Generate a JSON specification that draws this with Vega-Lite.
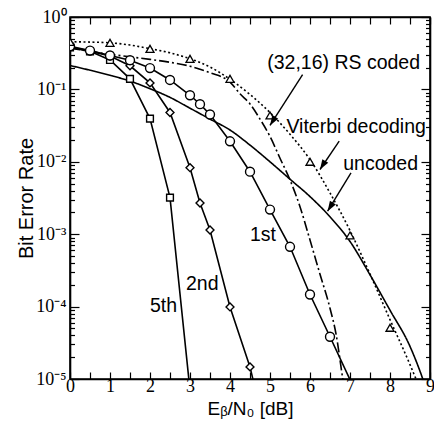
{
  "$schema": "https://vega.github.io/schema/vega-lite/v6.json",
  "width": 360,
  "height": 362,
  "autosize": {"type": "none"},
  "padding": {"left": 70, "top": 17, "right": 4, "bottom": 48},
  "background": "white",
  "config": {
    "view": {"stroke": "black", "strokeWidth": 1.6},
    "axis": {
      "domainColor": "black", "domainWidth": 1.6,
      "tickColor": "black", "tickWidth": 1.2,
      "labelColor": "black", "titleColor": "black",
      "grid": false,
      "labelFont": "Liberation Serif, Times New Roman, serif", "labelFontSize": 18,
      "titleFont": "Liberation Sans, Arial, sans-serif", "titleFontSize": 20, "titleFontWeight": "normal",
      "labelFlush": false, "labelOverlap": false, "labelBound": false
    }
  },
  "datasets": {
    "curves": [
      {"series": "5th", "x": 0, "ber": 0.38},
      {"series": "5th", "x": 0.5, "ber": 0.335},
      {"series": "5th", "x": 1, "ber": 0.255},
      {"series": "5th", "x": 1.5, "ber": 0.14},
      {"series": "5th", "x": 2, "ber": 0.0395},
      {"series": "5th", "x": 2.5, "ber": 0.0032},
      {"series": "5th", "x": 3, "ber": 7e-6},
      {"series": "2nd", "x": 0, "ber": 0.385},
      {"series": "2nd", "x": 0.5, "ber": 0.338},
      {"series": "2nd", "x": 1, "ber": 0.29},
      {"series": "2nd", "x": 1.5, "ber": 0.212},
      {"series": "2nd", "x": 2, "ber": 0.123},
      {"series": "2nd", "x": 2.5, "ber": 0.048},
      {"series": "2nd", "x": 3, "ber": 0.0083},
      {"series": "2nd", "x": 3.25, "ber": 0.0027},
      {"series": "2nd", "x": 3.5, "ber": 0.00114},
      {"series": "2nd", "x": 4, "ber": 0.000099},
      {"series": "2nd", "x": 4.5, "ber": 0.0000147},
      {"series": "2nd", "x": 5, "ber": 1e-6},
      {"series": "1st", "x": 0, "ber": 0.395},
      {"series": "1st", "x": 0.5, "ber": 0.344},
      {"series": "1st", "x": 1, "ber": 0.294},
      {"series": "1st", "x": 1.5, "ber": 0.253},
      {"series": "1st", "x": 2, "ber": 0.197},
      {"series": "1st", "x": 2.5, "ber": 0.135},
      {"series": "1st", "x": 3, "ber": 0.083},
      {"series": "1st", "x": 3.25, "ber": 0.0625},
      {"series": "1st", "x": 3.5, "ber": 0.045},
      {"series": "1st", "x": 4, "ber": 0.0192},
      {"series": "1st", "x": 4.5, "ber": 0.0073},
      {"series": "1st", "x": 5, "ber": 0.00219},
      {"series": "1st", "x": 5.5, "ber": 0.00067},
      {"series": "1st", "x": 6, "ber": 0.000147},
      {"series": "1st", "x": 6.5, "ber": 0.0000383},
      {"series": "1st", "x": 7, "ber": 0.0000098},
      {"series": "uncoded", "x": 0, "ber": 0.2138},
      {"series": "uncoded", "x": 0.5, "ber": 0.1841},
      {"series": "uncoded", "x": 1, "ber": 0.1567},
      {"series": "uncoded", "x": 1.5, "ber": 0.1303},
      {"series": "uncoded", "x": 2, "ber": 0.1023},
      {"series": "uncoded", "x": 2.5, "ber": 0.0776},
      {"series": "uncoded", "x": 3, "ber": 0.055},
      {"series": "uncoded", "x": 3.5, "ber": 0.0389},
      {"series": "uncoded", "x": 4, "ber": 0.0275},
      {"series": "uncoded", "x": 4.5, "ber": 0.017},
      {"series": "uncoded", "x": 5, "ber": 0.01},
      {"series": "uncoded", "x": 5.5, "ber": 0.00575},
      {"series": "uncoded", "x": 6, "ber": 0.00331},
      {"series": "uncoded", "x": 6.5, "ber": 0.00174},
      {"series": "uncoded", "x": 7, "ber": 0.000794},
      {"series": "uncoded", "x": 7.5, "ber": 0.000275},
      {"series": "uncoded", "x": 8, "ber": 0.0000891},
      {"series": "uncoded", "x": 8.5, "ber": 0.0000282},
      {"series": "uncoded", "x": 8.82, "ber": 0.00001},
      {"series": "uncoded", "x": 9, "ber": 5e-6},
      {"series": "rs", "x": 0, "ber": 0.372},
      {"series": "rs", "x": 0.5, "ber": 0.335},
      {"series": "rs", "x": 1, "ber": 0.305},
      {"series": "rs", "x": 1.5, "ber": 0.282},
      {"series": "rs", "x": 2, "ber": 0.26},
      {"series": "rs", "x": 2.5, "ber": 0.237},
      {"series": "rs", "x": 3, "ber": 0.209},
      {"series": "rs", "x": 3.5, "ber": 0.17},
      {"series": "rs", "x": 4, "ber": 0.126},
      {"series": "rs", "x": 4.25, "ber": 0.087},
      {"series": "rs", "x": 4.5, "ber": 0.063},
      {"series": "rs", "x": 4.75, "ber": 0.0389},
      {"series": "rs", "x": 5, "ber": 0.0224},
      {"series": "rs", "x": 5.25, "ber": 0.0112},
      {"series": "rs", "x": 5.5, "ber": 0.00562},
      {"series": "rs", "x": 5.75, "ber": 0.0024},
      {"series": "rs", "x": 6, "ber": 0.00083},
      {"series": "rs", "x": 6.25, "ber": 0.00028},
      {"series": "rs", "x": 6.5, "ber": 0.000095},
      {"series": "rs", "x": 6.65, "ber": 0.000042},
      {"series": "rs", "x": 6.82, "ber": 0.00001},
      {"series": "rs", "x": 7, "ber": 2.5e-6},
      {"series": "viterbi", "x": 0, "ber": 0.455},
      {"series": "viterbi", "x": 0.5, "ber": 0.45},
      {"series": "viterbi", "x": 1, "ber": 0.44},
      {"series": "viterbi", "x": 1.5, "ber": 0.41},
      {"series": "viterbi", "x": 2, "ber": 0.365},
      {"series": "viterbi", "x": 2.5, "ber": 0.32},
      {"series": "viterbi", "x": 3, "ber": 0.265},
      {"series": "viterbi", "x": 3.5, "ber": 0.204},
      {"series": "viterbi", "x": 4, "ber": 0.138},
      {"series": "viterbi", "x": 4.5, "ber": 0.0851},
      {"series": "viterbi", "x": 5, "ber": 0.0479},
      {"series": "viterbi", "x": 5.5, "ber": 0.024},
      {"series": "viterbi", "x": 6, "ber": 0.0107},
      {"series": "viterbi", "x": 6.5, "ber": 0.00372},
      {"series": "viterbi", "x": 7, "ber": 0.00112},
      {"series": "viterbi", "x": 7.5, "ber": 0.000282},
      {"series": "viterbi", "x": 8, "ber": 0.000066},
      {"series": "viterbi", "x": 8.5, "ber": 0.0000158},
      {"series": "viterbi", "x": 8.65, "ber": 0.00001},
      {"series": "viterbi", "x": 9, "ber": 3.5e-6}
    ],
    "viterbi_sim": [
      {"x": 0, "ber": 0.454},
      {"x": 1, "ber": 0.44},
      {"x": 2, "ber": 0.363},
      {"x": 3, "ber": 0.264},
      {"x": 4, "ber": 0.14},
      {"x": 5, "ber": 0.0436},
      {"x": 6, "ber": 0.01},
      {"x": 7, "ber": 0.00096},
      {"x": 8, "ber": 0.000051}
    ],
    "arrows": [
      {"x": 5.815, "y": 0.1606, "x2": 5.0, "y2": 0.0318},
      {"x": 6.73, "y": 0.01926, "x2": 6.25, "y2": 0.00783},
      {"x": 7.025, "y": 0.00705, "x2": 6.44, "y2": 0.00208}
    ],
    "labels": [
      {"label": "(32,16) RS coded", "x": 4.93, "y": 0.235},
      {"label": "Viterbi decoding", "x": 5.41, "y": 0.0307},
      {"label": "uncoded", "x": 6.83, "y": 0.00918},
      {"label": "1st", "x": 4.5, "y": 0.000975},
      {"label": "2nd", "x": 2.9, "y": 0.000205},
      {"label": "5th", "x": 2.0, "y": 0.000101}
    ]
  },
  "layer": [
    {
      "data": {"name": "curves"},
      "transform": [{"filter": "indexof(['uncoded','rs','viterbi'], datum.series) >= 0"}],
      "mark": {"type": "line", "clip": true, "interpolate": "monotone", "color": "black", "strokeWidth": 1.6},
      "encoding": {
        "x": {"field": "x", "type": "quantitative", "scale": {"domain": [0, 9], "nice": false},
          "axis": {"orient": "bottom", "title": "Eᵦ/N₀ [dB]", "titlePadding": 4, "titleFontSize": 19,
            "values": [0,0.5,1,1.5,2,2.5,3,3.5,4,4.5,5,5.5,6,6.5,7,7.5,8,8.5,9],
            "labelExpr": "datum.value % 1 == 0 ? format(datum.value, 'd') : ''",
            "tickSize": -7, "labelPadding": 5}},
        "y": {"field": "ber", "type": "quantitative", "scale": {"type": "log", "domain": [0.00001, 1], "nice": false},
          "axis": {"orient": "left", "title": "Bit Error Rate", "titlePadding": -1,
            "values": [1e-5,2e-5,3e-5,4e-5,5e-5,6e-5,7e-5,8e-5,9e-5,1e-4,2e-4,3e-4,4e-4,5e-4,6e-4,7e-4,8e-4,9e-4,1e-3,2e-3,3e-3,4e-3,5e-3,6e-3,7e-3,8e-3,9e-3,0.01,0.02,0.03,0.04,0.05,0.06,0.07,0.08,0.09,0.1,0.2,0.3,0.4,0.5,0.6,0.7,0.8,0.9,1],
            "labelExpr": "abs(log(datum.value)/LN10 - round(log(datum.value)/LN10)) < 0.001 ? (round(log(datum.value)/LN10) == 0 ? '10⁰' : '10⁻' + ['','¹','²','³','⁴','⁵'][-round(log(datum.value)/LN10)]) : ''",
            "tickSize": {"condition": {"test": "abs(log(datum.value)/LN10 - round(log(datum.value)/LN10)) < 0.001", "value": -9}, "value": -4.5},
            "labelPadding": 13}},
        "detail": {"field": "series"},
        "strokeDash": {"field": "series", "type": "nominal",
          "scale": {"domain": ["uncoded", "rs", "viterbi"], "range": [[1, 0], [10, 3, 2, 3], [2, 2.5]]},
          "legend": null}
      }
    },
    {
      "data": {"name": "curves"},
      "transform": [{"filter": "indexof(['1st','2nd','5th'], datum.series) >= 0"}],
      "mark": {"type": "line", "clip": true, "color": "black", "strokeWidth": 1.6},
      "encoding": {
        "x": {"field": "x", "type": "quantitative",
          "axis": {"orient": "top", "title": null, "labels": false,
            "values": [0,0.5,1,1.5,2,2.5,3,3.5,4,4.5,5,5.5,6,6.5,7,7.5,8,8.5,9],
            "tickSize": -7}},
        "y": {"field": "ber", "type": "quantitative",
          "axis": {"orient": "right", "title": null, "labels": false,
            "values": [1e-5,2e-5,3e-5,4e-5,5e-5,6e-5,7e-5,8e-5,9e-5,1e-4,2e-4,3e-4,4e-4,5e-4,6e-4,7e-4,8e-4,9e-4,1e-3,2e-3,3e-3,4e-3,5e-3,6e-3,7e-3,8e-3,9e-3,0.01,0.02,0.03,0.04,0.05,0.06,0.07,0.08,0.09,0.1,0.2,0.3,0.4,0.5,0.6,0.7,0.8,0.9,1],
            "tickSize": {"condition": {"test": "abs(log(datum.value)/LN10 - round(log(datum.value)/LN10)) < 0.001", "value": -9}, "value": -4.5}}},
        "detail": {"field": "series"}
      }
    },
    {
      "data": {"name": "curves"},
      "transform": [{"filter": "indexof(['1st','2nd','5th'], datum.series) >= 0 && datum.ber >= 0.00001"}],
      "mark": {"type": "point", "clip": true, "filled": true, "fill": "white", "stroke": "black", "strokeWidth": 1.4, "opacity": 1},
      "encoding": {
        "x": {"field": "x", "type": "quantitative", "axis": null},
        "y": {"field": "ber", "type": "quantitative", "axis": null},
        "shape": {"field": "series", "type": "nominal", "scale": {"domain": ["5th", "2nd", "1st"], "range": ["square", "diamond", "circle"]}, "legend": null},
        "size": {"field": "series", "type": "nominal", "scale": {"domain": ["5th", "2nd", "1st"], "range": [46, 80, 72]}, "legend": null}
      }
    },
    {
      "data": {"name": "viterbi_sim"},
      "mark": {"type": "point", "clip": true, "filled": true, "fill": "white", "stroke": "black", "strokeWidth": 1.3, "opacity": 1, "shape": "triangle-up", "size": 64},
      "encoding": {
        "x": {"field": "x", "type": "quantitative", "axis": null},
        "y": {"field": "ber", "type": "quantitative", "axis": null}
      }
    },
    {
      "data": {"name": "arrows"},
      "mark": {"type": "rule", "color": "black", "strokeWidth": 1.4},
      "encoding": {
        "x": {"field": "x", "type": "quantitative", "axis": null},
        "y": {"field": "y", "type": "quantitative", "axis": null},
        "x2": {"field": "x2"},
        "y2": {"field": "y2"}
      }
    },
    {
      "data": {"name": "arrows"},
      "mark": {"type": "point", "filled": true, "color": "black", "opacity": 1, "shape": "M0,0L-0.7,2L0.7,2Z", "size": 100, "angle": 212},
      "encoding": {
        "x": {"field": "x2", "type": "quantitative", "axis": null},
        "y": {"field": "y2", "type": "quantitative", "axis": null}
      }
    },
    {
      "data": {"name": "labels"},
      "mark": {"type": "text", "align": "left", "baseline": "middle", "font": "Liberation Sans, Arial, sans-serif", "fontSize": 19.5, "color": "black"},
      "encoding": {
        "x": {"field": "x", "type": "quantitative", "axis": null},
        "y": {"field": "y", "type": "quantitative", "axis": null},
        "text": {"field": "label"}
      }
    }
  ],
  "resolve": {"axis": {"x": "independent", "y": "independent"}}
}
